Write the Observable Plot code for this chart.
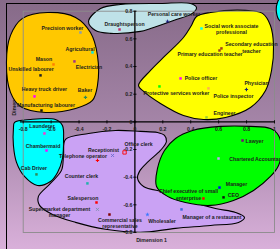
<!DOCTYPE html>
<html><head><meta charset="utf-8">
<script src="https://cdn.jsdelivr.net/npm/d3@7"></script>
<script src="https://cdn.jsdelivr.net/npm/@observablehq/plot@0.6"></script>
<style>
html,body{margin:0;padding:0;}
body{width:280px;height:249px;overflow:hidden;position:relative;
 background:linear-gradient(to bottom,#866a88 0%,#a585a8 50%,#d9b0da 100%);}
#box{position:absolute;left:6px;top:3px;width:320px;height:320px;border-left:1.6px solid #000;border-top:1.6px solid #000;}
#chart{position:absolute;left:0;top:0;}
</style></head><body><div id="box"></div><div id="chart"></div>
<script>
// ---- data ----
const occupations = ["Precision worker","Agricultural","Mason","Electrician","Unskilled labourer","Heavy truck driver","Baker","Manufacturing labourer","Draughtsperson","Personal care worker","Social work associate professional","Secondary education teacher","Primary education teacher","Police officer","Protective services worker","Police inspector","Physician","Engineer","Launderer","Chambermaid","Cab Driver","Receptionist","Telephone operator","Office clerk","Counter clerk","Salesperson","Supermarket department manager","Commercial sales representative","Wholesaler","Manager of a restaurant","Chief executive of small enterprise","Manager","CEO","Lawyer","Chartered Accountant"];
const dim1 = [-0.390,-0.304,-0.583,-0.433,-0.676,-0.719,-0.354,-0.669,-0.110,0.234,0.477,0.620,0.606,0.327,0.176,0.527,0.799,0.513,-0.648,-0.633,-0.705,-0.160,-0.268,-0.074,-0.340,-0.275,-0.268,-0.182,0.090,0.334,0.491,0.606,0.635,0.771,0.599];
const dim2 = [0.646,0.502,0.415,0.437,0.336,0.184,0.177,0.082,0.668,0.726,0.675,0.531,0.516,0.314,0.256,0.242,0.234,0.032,-0.084,-0.207,-0.380,-0.243,-0.279,-0.221,-0.445,-0.583,-0.633,-0.670,-0.670,-0.633,-0.554,-0.475,-0.546,-0.135,-0.265];
const labelText = ["Precision worker","Agricultural","Mason","Electrician","Unskilled labourer","Heavy truck driver","Baker","Manufacturing labourer","Draughtsperson","Personal care worker","Social work associate\nprofessional","Secondary education\nteacher","Primary education teacher","Police officer","Protective services worker","Police inspector","Physician","Engineer","Launderer","Chambermaid","Cab Driver","Receptionist","Telephone operator","Office clerk","Counter clerk","Salesperson","Supermarket department\nmanager","Commercial sales\nrepresentative","Wholesaler","Manager of a restaurant","Chief executive of small\nenterprise","Manager","CEO","Lawyer","Chartered Accountant"];
const labelDim1 = [-0.519,-0.393,-0.651,-0.329,-0.744,-0.648,-0.357,-0.637,-0.074,0.280,0.692,0.835,0.538,0.473,0.298,0.706,0.871,0.642,-0.665,-0.658,-0.723,-0.225,-0.372,0.026,-0.383,-0.372,-0.540,-0.107,0.194,0.552,0.384,0.728,0.706,0.857,0.871];
const labelDim2 = [0.675,0.524,0.451,0.393,0.379,0.234,0.227,0.119,0.711,0.777,0.672,0.538,0.487,0.314,0.205,0.184,0.278,0.061,-0.033,-0.171,-0.337,-0.207,-0.250,-0.163,-0.395,-0.554,-0.651,-0.731,-0.720,-0.691,-0.525,-0.452,-0.532,-0.142,-0.272];
const xTicks = [-0.8,-0.6,-0.4,-0.2,0,0.2,0.4,0.6,0.8,1];
const xTickLabels = ["-0.8","-0.6","-0.4","-0.2","0","0.2","0.4","0.6","0.8","1"];
const yTicks = [-0.8,-0.6,-0.4,-0.2,0,0.2,0.4,0.6,0.8];
const yTickLabels = ["-0.8","-0.6","-0.4","-0.2","0","0.2","0.4","0.6","0.8"];
// cluster outlines (data coordinates)
const clusterOrange = [[-0.626,0.791],[-0.425,0.755],[-0.318,0.646],[-0.268,0.480],[-0.268,0.263],[-0.304,0.155],[-0.425,0.097],[-0.640,0.068],[-0.819,0.111],[-0.891,0.213],[-0.920,0.429],[-0.891,0.625],[-0.805,0.748]];
const clusterLightBlue = [[0.040,0.654],[0.112,0.675],[0.277,0.733],[0.413,0.784],[0.441,0.827],[0.398,0.856],[0.183,0.856],[-0.103,0.849],[-0.246,0.820],[-0.332,0.726],[-0.282,0.661],[-0.175,0.640]];
const clusterYellow = [[0.026,0.263],[0.112,0.372],[0.219,0.480],[0.348,0.610],[0.405,0.697],[0.441,0.762],[0.542,0.791],[0.792,0.806],[0.914,0.784],[0.971,0.697],[0.993,0.552],[0.979,0.372],[0.936,0.227],[0.828,0.104],[0.649,0.032],[0.491,0.017],[0.348,0.046],[0.183,0.133],[0.062,0.220]];
const clusterCyan = [[-0.862,-0.004],[-0.748,0.017],[-0.569,0.017],[-0.519,-0.026],[-0.511,-0.134],[-0.519,-0.265],[-0.554,-0.366],[-0.605,-0.431],[-0.698,-0.460],[-0.791,-0.395],[-0.848,-0.293],[-0.870,-0.171],[-0.870,-0.048]];
const clusterLavender = [[-0.497,-0.127],[-0.332,-0.084],[-0.139,-0.062],[0.040,-0.069],[0.162,-0.077],[0.212,-0.098],[0.226,-0.142],[0.183,-0.207],[0.097,-0.286],[0.033,-0.358],[0.019,-0.409],[0.062,-0.467],[0.219,-0.510],[0.398,-0.575],[0.577,-0.626],[0.721,-0.655],[0.785,-0.691],[0.742,-0.727],[0.542,-0.749],[0.291,-0.770],[0.040,-0.799],[-0.211,-0.777],[-0.425,-0.727],[-0.590,-0.670],[-0.683,-0.604],[-0.691,-0.539],[-0.605,-0.445],[-0.526,-0.351],[-0.511,-0.243]];
const clusterGreen = [[0.155,-0.467],[0.162,-0.337],[0.212,-0.207],[0.291,-0.120],[0.413,-0.062],[0.613,-0.033],[0.828,-0.033],[0.971,-0.048],[1.029,-0.098],[1.050,-0.207],[1.029,-0.315],[0.971,-0.395],[0.850,-0.496],[0.706,-0.568],[0.542,-0.604],[0.362,-0.583],[0.234,-0.539]];
const clusterCyanTop = [[1.057,0.914],[1.021,0.863],[1.014,0.791],[1.036,0.733],[1.079,0.719],[1.115,0.820]];

// ---- styles ----
const pointColors = ["#8a9bb0","#00e8e8","#ff7f00","#a0328c","#222222","#ff00ff","#2e8b57","#111111","#c0306a","#1a1a80","#00ffff","#a0401a","#a0401a","#ff00ff","#00ff00","#ffb050","#1a2a70","#9acd32","#ff33cc","#ff00ff","#2e8b57","#6a6acd","#ff0000","#ff0000","#20b2aa","#ff0000","#8090b0","#800000","#3a7aff","#4169e1","#ff0000","#0000ff","#111111","#800080","#c8a0ff"];
const pointSymbols = ["square","square","square","square","square","square","cross","square","square","star","square","square","square","square","square","square","cross","square","square","square","square","times","cross","hollow","square","square","times","square","star","square","square","square","square","square","square"];

const points = occupations.map((name,i)=>({name, x:dim1[i], y:dim2[i], lx:labelDim1[i], ly:labelDim2[i], label:labelText[i], color:pointColors[i], sym:pointSymbols[i]}));
const filled = points.filter(d=>d.sym!=="times" && d.sym!=="hollow");
const timesPts = points.filter(d=>d.sym==="times");
const hollowPts = points.filter(d=>d.sym==="hollow");

const font = {fontFamily:"'Liberation Sans', Arial, sans-serif", fontWeight:"bold", fontSize:5.2, fill:"#1d1d1d"};
const blob = (pts, color) => Plot.line(pts, {x:d=>d[0], y:d=>d[1], curve:"catmull-rom-closed", fill:color, stroke:"#000", strokeWidth:1.1});
const vTick = {draw(ctx,size){const r=Math.sqrt(size/Math.PI); ctx.moveTo(0,-r); ctx.lineTo(0,r);}};
const hTick = {draw(ctx,size){const r=Math.sqrt(size/Math.PI); ctx.moveTo(-r,0); ctx.lineTo(r,0);}};

const chart = Plot.plot({
  width:280, height:249,
  marginLeft:22.7, marginRight:6, marginTop:10.7, marginBottom:17,
  x:{domain:[-0.8,1], axis:null},
  y:{domain:[-0.8,0.8], axis:null},
  style:{background:"transparent", overflow:"visible"},
  marks:[
    Plot.text(["Dimension 2"], {frameAnchor:"left", rotate:-90, dx:-8.7, dy:-6.3, text:d=>d, ...font}),
    blob(clusterOrange, "#ffc800"),
    blob(clusterLightBlue, "#bfe2e8"),
    blob(clusterYellow, "#ffff00"),
    blob(clusterCyan, "#00ffff"),
    blob(clusterLavender, "#caa2f4"),
    blob(clusterGreen, "#00ff00"),
    blob(clusterCyanTop, "#00ffff"),
    Plot.frame({stroke:"#8c8c8c", strokeWidth:0.9}),
    Plot.ruleY([0], {x1:-0.82, x2:1.0, stroke:"#000", strokeWidth:1.3}),
    Plot.ruleX([0], {y1:-0.8, y2:0.8, stroke:"#000", strokeWidth:1.3}),
    Plot.dot(xTicks, {x:d=>d, y:()=>0, symbol:vTick, r:1.6, fill:"none", stroke:"#000", strokeWidth:0.9}),
    Plot.dot(yTicks, {x:()=>0, y:d=>d, symbol:hTick, r:1.6, fill:"none", stroke:"#000", strokeWidth:0.9}),
    Plot.text(xTicks, {x:d=>d, y:()=>0, text:(d,i)=>xTickLabels[i], dy:7.5, ...font}),
    Plot.text(yTicks, {x:()=>0, y:d=>d, text:(d,i)=>yTickLabels[i], dx:-2.5, textAnchor:"end", ...font}),
    Plot.text(["Dimension 1"], {frameAnchor:"bottom", dx:2.7, dy:9, text:d=>d, ...font}),
    Plot.dot(filled, {x:"x", y:"y", symbol:"sym", fill:"color", r:1.4}),
    Plot.dot(timesPts, {x:"x", y:"y", symbol:"times", stroke:"color", r:1.5, strokeWidth:0.9}),
    Plot.dot(hollowPts, {x:"x", y:"y", symbol:"square", fill:"none", stroke:"color", r:1.9, strokeWidth:0.9}),
    Plot.text(points, {x:"lx", y:"ly", text:"label", lineHeight:1.2, ...font})
  ]
});
document.getElementById("chart").appendChild(chart);
</script></body></html>
